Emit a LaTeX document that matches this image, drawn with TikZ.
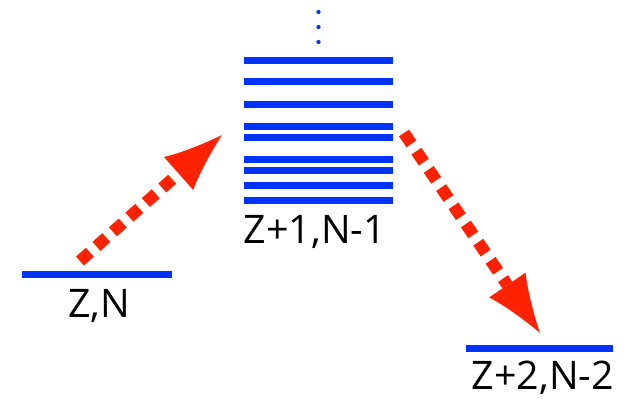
\documentclass[tikz,border=0pt]{standalone}
\usepackage{fontspec}
\setmainfont{Open Sans}
\usetikzlibrary{arrows.meta}
\definecolor{levelblue}{RGB}{0,51,255}
\definecolor{decayred}{RGB}{255,34,0}

\begin{document}
\begin{tikzpicture}[x=0.025cm, y=-0.025cm,
    lvl/.style={rectangle, fill=levelblue, inner sep=0pt, minimum height=0.175cm},
    lab/.style={font=\fontsize{28}{31}\selectfont, anchor=base, inner sep=0pt},
    decay/.style={decayred, line width=0.3cm, dash pattern=on 0.33cm off 0.22cm,
        -{Latex[length=1.45cm, width=1.1cm, line width=0pt]}}
]
    \useasboundingbox (0,0) rectangle (634,399);

    % Mother level
    \node[lvl, minimum width=3.75cm] (zn) at (97,275) {};
    \node[lab] (znlab) at (99,318) {Z,N};

    % Intermediate states (dense levels)
    \foreach \y [count=\i] in {60.3,82,104.3,126.7,137.7,159.7,171,185.3,200.3}
        \node[lvl, minimum width=3.73cm] (s\i) at (318.5,\y) {};
    \foreach \y in {12,27,42}
        \fill[levelblue] (318.5,\y) circle (1.5pt);
    \node[lab] (slab) at (315,243.3) {Z+1,N-1};

    % Daughter level
    \node[lvl, minimum width=3.68cm] (zn2) at (539.5,348.7) {};
    \node[lab] (zn2lab) at (543,389.5) {Z+2,N-2};

    % Transitions
    \coordinate (up0) at (80,261);
    \coordinate (up1) at (222,135);
    \coordinate (dn0) at (404,133);
    \coordinate (dn1) at (540,333);
    \draw[decay] (up0) -- (up1);
    \draw[decay] (dn0) -- (dn1);
\end{tikzpicture}
\end{document}
